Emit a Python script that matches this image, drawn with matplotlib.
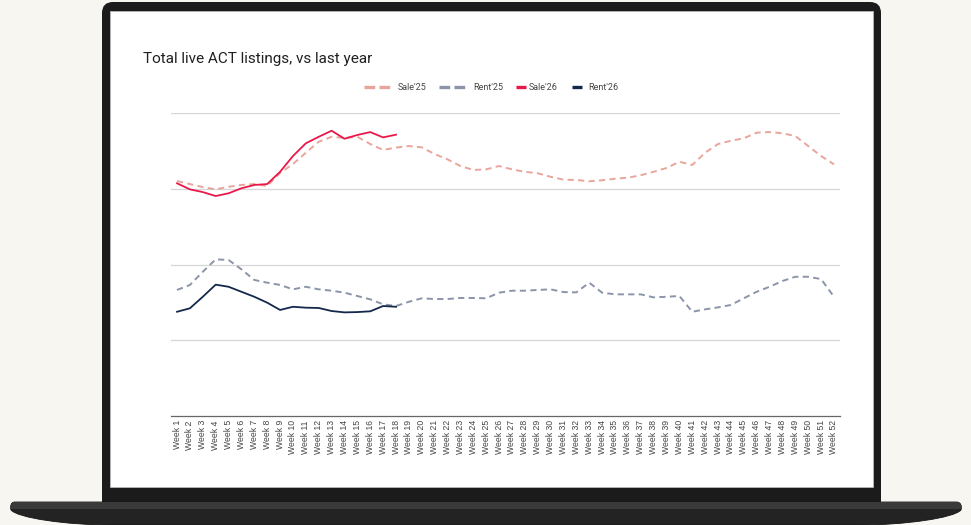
import numpy as np
import matplotlib.pyplot as plt
from matplotlib.patches import FancyBboxPatch, Rectangle, PathPatch
from matplotlib.path import Path
from matplotlib.lines import Line2D

# weekly totals of live listings (y axis hidden)
weeks = [f"Week {i}" for i in range(1, 53)]
sale_25 = [1551, 1531, 1511, 1496, 1513, 1525, 1531, 1518, 1604, 1663,
           1738, 1810, 1843, 1835, 1843, 1795, 1756, 1772, 1782, 1773,
           1729, 1694, 1650, 1624, 1628, 1650, 1628, 1612, 1602, 1579,
           1560, 1558, 1549, 1556, 1566, 1573, 1589, 1612, 1637, 1678,
           1657, 1738, 1795, 1817, 1833, 1870, 1874, 1866, 1848, 1782,
           1716, 1661]
rent_25 = [832, 865, 952, 1034, 1030, 968, 898, 880, 865, 836,
           853, 836, 827, 814, 792, 770, 737, 726, 754, 777,
           772, 772, 779, 779, 777, 814, 827, 827, 832, 836,
           818, 816, 880, 814, 803, 803, 803, 783, 787, 792,
           688, 704, 717, 733, 777, 820, 853, 891, 919, 919,
           904, 787]
sale_26 = [1536, 1496, 1478, 1452, 1470, 1503, 1525, 1531, 1612, 1716,
           1800, 1843, 1883, 1830, 1855, 1874, 1839, 1857]
rent_26 = [688, 711, 787, 867, 853, 820, 787, 748, 700, 721,
           715, 713, 693, 684, 686, 691, 726, 721]

names = ["Sale'25", "Rent'25", "Sale'26", "Rent'26"]
colors = ["#e9a59c", "#8b94a9", "#e8194a", "#14284b"]

W, H = 971, 525
fig = plt.figure(figsize=(W/100, H/100), dpi=100)
fig.patch.set_facecolor("#f7f6f1")

# laptop mock-up drawn in pixel coordinates
bg = fig.add_axes([0, 0, 1, 1])
bg.set_xlim(0, W)
bg.set_ylim(H, 0)
bg.axis("off")

lid = FancyBboxPatch((102, 2), 779, 515, boxstyle="round,pad=0,rounding_size=11",
                     fc="#1b1b1b", ec="none")
bg.add_patch(lid)
screen = Rectangle((110, 11), 763, 476, fc="white", ec="#b8b8b8", lw=0.6)
bg.add_patch(screen)

verts = [(15, 502), (956, 502),
         (961, 502), (962, 506), (961, 510),
         (954, 518), (905, 525), (860, 525),
         (112, 525),
         (66, 525), (18, 518), (11, 510),
         (10, 506), (11, 502), (15, 502),
         (15, 502)]
codes = [Path.MOVETO, Path.LINETO,
         Path.CURVE4, Path.CURVE4, Path.CURVE4,
         Path.CURVE4, Path.CURVE4, Path.CURVE4,
         Path.LINETO,
         Path.CURVE4, Path.CURVE4, Path.CURVE4,
         Path.CURVE4, Path.CURVE4, Path.CURVE4,
         Path.CLOSEPOLY]
base = PathPatch(Path(verts, codes), fc="#232323", ec="#151515", lw=0.6)
bg.add_patch(base)
strip = Rectangle((0, 502), W, 7, fc="#3a3a3a", ec="none")
bg.add_patch(strip)
strip.set_clip_path(base)

# title and legend
fig.text(143/W, 1 - 62.5/H, "Total live ACT listings, vs last year",
         fontsize=11, family="Roboto", color="#202020", va="baseline")

leg_samples = [(364, 392), (439, 467), (516, 526), (572, 582)]
leg_text_x = [398, 473, 529, 588]
for i, name in enumerate(names):
    x0, x1 = leg_samples[i]
    ln = Line2D([x0, x1], [87, 87], color=colors[i], lw=2.4, solid_capstyle="butt")
    if i < 2:
        ln.set_dashes([3.2, 1.3])
        ln.set_dash_capstyle("butt")
    bg.add_line(ln)
    bg.text(leg_text_x[i], 87.5, name, fontsize=6.5, family="Roboto",
            color="#444444", va="center", ha="left")

# chart
ax = fig.add_axes([170.6/W, (H - 416)/H, 669.8/W, 303/H])
ax.set_facecolor("none")
x = np.arange(len(weeks))

ax.plot(x, rent_25, color=colors[1], lw=1.4, dashes=(3.2, 2.2), zorder=3)
ax.plot(x, sale_25, color=colors[0], lw=1.4, dashes=(3.2, 2.2), zorder=3)
ax.plot(x[:len(rent_26)], rent_26, color=colors[3], lw=1.3, zorder=4)
ax.plot(x[:len(sale_26)], sale_26, color=colors[2], lw=1.3, zorder=4)

ax.set_xlim(-0.5, len(weeks) - 0.5)
ax.set_ylim(0, 2000)
ax.set_yticks([500, 1000, 1500, 2000])
ax.yaxis.grid(True, color="#d6d6d6", lw=0.9)
ax.set_axisbelow(True)
ax.tick_params(axis="y", length=0, labelleft=False)

ax.set_xticks(x)
ax.set_xticklabels(weeks, rotation=90, fontsize=6.2, family="Liberation Sans",
                   color="#444444")
ax.tick_params(axis="x", length=0, pad=3)

for s in ["left", "right", "top"]:
    ax.spines[s].set_visible(False)
ax.spines["bottom"].set_color("#666666")
ax.spines["bottom"].set_linewidth(0.9)

fig.savefig("out.png", dpi=100, facecolor=fig.get_facecolor())
